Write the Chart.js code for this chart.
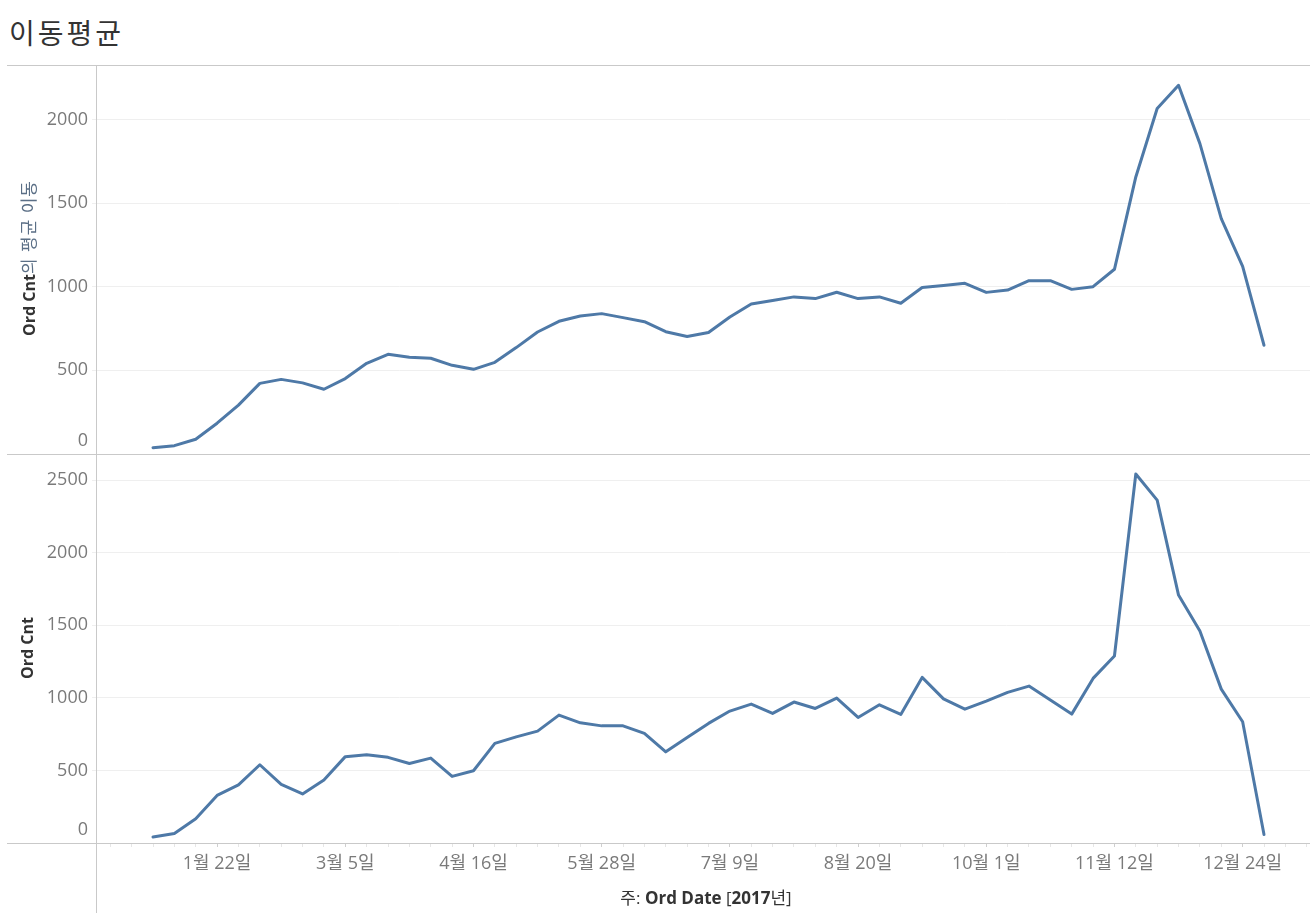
<!DOCTYPE html>
<html lang="ko">
<head>
<meta charset="utf-8">
<title>이동평균</title>
<script src="https://cdn.jsdelivr.net/npm/chart.js@4.4.1/dist/chart.umd.min.js"></script>
<style>
  html, body { margin: 0; padding: 0; background: #fff; }
  #wrap { position: relative; width: 1310px; height: 918px; overflow: hidden;
          font-family: 'Open Sans', 'Noto Sans CJK KR', sans-serif; }
  #title { position: absolute; left: 9px; top: 12px; font-size: 28px; line-height: 40px;
           letter-spacing: 3px; color: #333; font-family: 'Noto Sans CJK KR', sans-serif; }
  canvas { position: absolute; left: 0; }
  #topChart { top: 0; }
  #bottomChart { top: 454px; }
  .line { position: absolute; background: #c9c9c9; z-index: 2; }
  .ytitle { position: absolute; left: 27px; transform: translate(-50%, -50%) rotate(-90deg);
            white-space: nowrap; font-size: 16px; color: #333; }
  .ytitle b { font-weight: 700; }
  .ytitle .k { color: #5b6f86; font-size: 17px; letter-spacing: 1px; }
  #xtitle { position: absolute; left: 706px; top: 896px; transform: translate(-50%, -50%);
            white-space: nowrap; font-size: 17px; color: #333; }
</style>
</head>
<body>
<div id="wrap">
  <div id="title">이동평균</div>
  <canvas id="topChart" width="1310" height="454"></canvas>
  <canvas id="bottomChart" width="1310" height="464"></canvas>

  <div class="line" style="left:7px; top:65px; width:1303px; height:1px;"></div>
  <div class="line" style="left:7px; top:454px; width:1303px; height:1px;"></div>
  <div class="line" style="left:7px; top:843px; width:1303px; height:1px;"></div>
  <div class="line" style="left:96px; top:65px; width:1px; height:848px;"></div>

  <div class="ytitle" style="top:258px;"><b>Ord Cnt</b><span class="k">의 평균 이동</span></div>
  <div class="ytitle" style="top:648px;"><b>Ord Cnt</b></div>
  <div id="xtitle">주: <b>Ord Date</b> [<b>2017</b>년]</div>
</div>

<script>
// weekly order counts, 2017 (weeks starting 1월 1일 ... 12월 31일)
const ordCnt = [
  41, 66, 167, 328, 400, 539, 404, 338, 434, 595,
  608, 590, 548, 585, 459, 498, 686, 731, 771, 881,
  828, 807, 807, 755, 628, 727, 824, 909, 957, 893,
  971, 927, 998, 865, 952, 886, 1141, 993, 922, 978,
  1038, 1081, 985, 888, 1134, 1288, 2542, 2362, 1708, 1460,
  1060, 835, 59
];

// moving average of Ord Cnt (top pane)
const movingAvg = [
  38, 50, 88, 184, 292, 422, 446, 425, 387, 451,
  542, 596, 578, 572, 530, 506, 548, 636, 729, 793,
  825, 839, 815, 791, 731, 702, 726, 819, 897, 917,
  939, 929, 967, 929, 939, 901, 995, 1007, 1020, 966,
  980, 1036, 1036, 984, 1000, 1104, 1656, 2065, 2204, 1855,
  1407, 1122, 650
];

// axis ticks
const topYTicks = [0, 500, 1000, 1500, 2000];
const bottomYTicks = [0, 500, 1000, 1500, 2000, 2500];
const tickWeeks = [3, 9, 15, 21, 27, 33, 39, 45, 51];
const tickLabels = ['1월 22일', '3월 5일', '4월 16일', '5월 28일', '7월 9일',
                    '8월 20일', '10월 1일', '11월 12일', '12월 24일'];

const lineColor = '#4e79a7';
const tickColor = '#7a7a7a';
const fontFamily = "'Open Sans', 'Noto Sans CJK KR', sans-serif";

const toPoints = (vals) => vals.map((v, i) => ({ x: i, y: v }));

// x range so that week 0 sits at x=153 and week 52 at x=1264
const xMin = -2.668;
const xMax = 54.153;

// keep the plot area fixed: no extra room for overflowing labels
const noPad = (s) => { s.paddingTop = 0; s.paddingBottom = 0; s.paddingLeft = 0; s.paddingRight = 0; };

const yScale = (max, ticks) => ({
  min: 0,
  max: max,
  afterFit: (s) => { s.width = 96; noPad(s); },
  afterBuildTicks: (s) => { s.ticks = ticks.map((v) => ({ value: v })); },
  border: { display: false },
  grid: { color: '#efefef', tickLength: 4, drawTicks: true },
  ticks: {
    padding: 4,
    color: tickColor,
    font: { family: fontFamily, size: 18, lineHeight: '26px' },
    // lift the 0 label off the pane edge, like the original
    callback: (v) => (v === 0 ? ['0', ''] : String(v)),
  },
});

const xScale = (show) => ({
  type: 'linear',
  min: xMin,
  max: xMax,
  display: show,
  afterFit: (s) => { if (show) s.height = 75; noPad(s); },
  afterBuildTicks: (s) => {
    const t = [];
    for (let w = -2; w <= 54; w++) t.push({ value: w });
    s.ticks = t;
  },
  border: { display: false },
  grid: {
    drawOnChartArea: false,
    drawTicks: true,
    tickLength: 4,
    color: (c) => (tickWeeks.includes(c.tick && c.tick.value) ? '#cfcfcf' : '#e6e6e6'),
  },
  ticks: {
    autoSkip: false,
    maxRotation: 0,
    padding: 6,
    color: tickColor,
    font: { family: fontFamily, size: 18 },
    callback: (v) => {
      const k = tickWeeks.indexOf(v);
      return k >= 0 ? tickLabels[k] : '';
    },
  },
});

const makeChart = (id, values, yMax, yTicks, showX, padTop) => new Chart(document.getElementById(id), {
  type: 'line',
  data: {
    datasets: [{
      data: toPoints(values),
      borderColor: lineColor,
      borderWidth: 3,
      borderJoinStyle: 'round',
      borderCapStyle: 'round',
      pointRadius: 0,
      tension: 0,
    }],
  },
  options: {
    responsive: false,
    animation: false,
    layout: { padding: { top: padTop, left: 0, right: 0, bottom: 0 } },
    plugins: { legend: { display: false }, tooltip: { enabled: false } },
    scales: {
      x: xScale(showX),
      y: yScale(yMax, yTicks),
    },
  },
});

makeChart('topChart', movingAvg, 2325, topYTicks, false, 65);
makeChart('bottomChart', ordCnt, 2680, bottomYTicks, true, 0);
</script>
</body>
</html>
